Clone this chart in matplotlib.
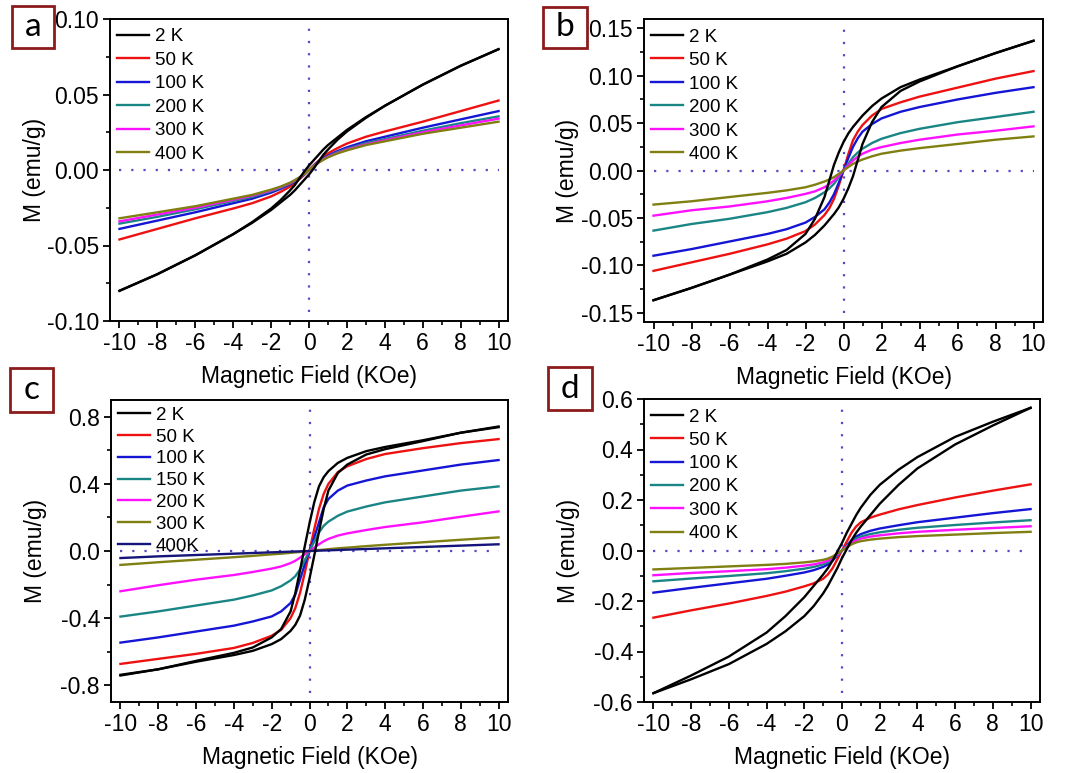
import matplotlib
matplotlib.use("Agg")
import matplotlib.pyplot as plt
from matplotlib.patches import Rectangle
from matplotlib.ticker import MultipleLocator, FormatStrFormatter

plt.rcParams['font.family'] = ['Liberation Sans', 'DejaVu Sans']
plt.rcParams['axes.unicode_minus'] = False

# ---------------- data ----------------
H = [-10, -8, -6, -4, -3, -2, -1.5, -1, -0.75, -0.5, -0.25, 0,
     0.25, 0.5, 0.75, 1, 1.5, 2, 3, 4, 6, 8, 10]

# panel a
a_2K_desc = [-0.080, -0.069, -0.0565, -0.0425, -0.0345, -0.0255, -0.020, -0.0135, -0.010, -0.0055, -0.001, 0.003,
             0.0065, 0.010, 0.0135, 0.0165, 0.0215, 0.0265, 0.035, 0.0425, 0.0565, 0.069, 0.080]
a_2K_asc = [-0.080, -0.069, -0.0565, -0.0425, -0.035, -0.0265, -0.0215, -0.0165, -0.0135, -0.010, -0.0065, -0.003,
            0.001, 0.0055, 0.010, 0.0135, 0.020, 0.0255, 0.0345, 0.0425, 0.0565, 0.069, 0.080]
a_50K = [-0.046, -0.039, -0.032, -0.0255, -0.022, -0.0175, -0.0145, -0.011, -0.0087, -0.006, -0.0032, 0.0,
         0.0032, 0.006, 0.0087, 0.011, 0.0145, 0.0175, 0.022, 0.0255, 0.032, 0.039, 0.046]
a_100K = [-0.039, -0.0335, -0.028, -0.022, -0.019, -0.015, -0.0125, -0.0095, -0.0077, -0.0055, -0.003, 0.0,
          0.003, 0.0055, 0.0077, 0.0095, 0.0125, 0.015, 0.019, 0.022, 0.028, 0.0335, 0.039]
a_200K = [-0.0355, -0.031, -0.026, -0.0205, -0.0178, -0.014, -0.0118, -0.009, -0.0072, -0.0052, -0.0028, 0.0,
          0.0028, 0.0052, 0.0072, 0.009, 0.0118, 0.014, 0.0178, 0.0205, 0.026, 0.031, 0.0355]
a_300K = [-0.034, -0.0295, -0.025, -0.0197, -0.017, -0.0135, -0.0113, -0.0087, -0.007, -0.005, -0.0027, 0.0,
          0.0027, 0.005, 0.007, 0.0087, 0.0113, 0.0135, 0.017, 0.0197, 0.025, 0.0295, 0.034]
a_400K = [-0.032, -0.028, -0.024, -0.019, -0.0165, -0.013, -0.011, -0.0084, -0.0067, -0.0048, -0.0026, 0.0,
          0.0026, 0.0048, 0.0067, 0.0084, 0.011, 0.013, 0.0165, 0.019, 0.024, 0.028, 0.032]

# panel b
b_2K_desc = [-0.137, -0.124, -0.110, -0.094, -0.084, -0.067, -0.051, -0.028, -0.011, 0.006, 0.019, 0.030,
             0.039, 0.046, 0.052, 0.058, 0.068, 0.076, 0.088, 0.096, 0.110, 0.124, 0.137]
b_2K_asc = [-0.137, -0.124, -0.110, -0.096, -0.088, -0.076, -0.068, -0.058, -0.052, -0.046, -0.039, -0.030,
            -0.019, -0.006, 0.011, 0.028, 0.051, 0.067, 0.084, 0.094, 0.110, 0.124, 0.137]
b_50K = [-0.106, -0.097, -0.088, -0.078, -0.072, -0.064, -0.057, -0.047, -0.040, -0.030, -0.016, 0.0,
         0.017, 0.032, 0.041, 0.048, 0.058, 0.065, 0.072, 0.078, 0.0875, 0.097, 0.105]
b_100K = [-0.090, -0.083, -0.075, -0.067, -0.062, -0.055, -0.049, -0.041, -0.034, -0.025, -0.013, 0.0,
          0.013, 0.025, 0.034, 0.041, 0.049, 0.055, 0.062, 0.067, 0.075, 0.082, 0.088]
b_200K = [-0.0635, -0.0565, -0.051, -0.044, -0.0395, -0.0335, -0.029, -0.023, -0.019, -0.014, -0.007, 0.0,
          0.007, 0.014, 0.019, 0.023, 0.029, 0.0335, 0.0395, 0.044, 0.051, 0.0565, 0.062]
b_300K = [-0.0477, -0.042, -0.038, -0.0325, -0.029, -0.0247, -0.022, -0.0177, -0.0145, -0.0106, -0.0055, 0.0,
          0.0055, 0.0106, 0.0145, 0.0177, 0.022, 0.0247, 0.029, 0.0325, 0.038, 0.042, 0.0466]
b_400K = [-0.036, -0.0325, -0.028, -0.0236, -0.021, -0.0177, -0.015, -0.0116, -0.0095, -0.007, -0.0036, 0.0,
          0.0036, 0.007, 0.0095, 0.0116, 0.015, 0.0177, 0.021, 0.0236, 0.028, 0.0325, 0.036]

# panel c
c_2K_desc = [-0.742, -0.705, -0.655, -0.607, -0.575, -0.515, -0.465, -0.36, -0.25, -0.115, 0.028, 0.165,
             0.29, 0.385, 0.44, 0.476, 0.525, 0.555, 0.595, 0.62, 0.66, 0.705, 0.738]
c_2K_asc = [-0.738, -0.705, -0.66, -0.62, -0.595, -0.555, -0.525, -0.476, -0.44, -0.385, -0.29, -0.165,
            -0.028, 0.115, 0.25, 0.36, 0.465, 0.515, 0.575, 0.607, 0.655, 0.705, 0.742]
c_50K = [-0.673, -0.643, -0.613, -0.578, -0.548, -0.505, -0.47, -0.40, -0.34, -0.25, -0.13, 0.0,
         0.13, 0.25, 0.34, 0.40, 0.47, 0.505, 0.548, 0.578, 0.613, 0.643, 0.667]
c_100K = [-0.546, -0.515, -0.48, -0.445, -0.42, -0.39, -0.36, -0.31, -0.26, -0.17, -0.08, 0.0,
          0.08, 0.17, 0.26, 0.31, 0.36, 0.39, 0.42, 0.445, 0.48, 0.515, 0.542]
c_150K = [-0.391, -0.36, -0.325, -0.29, -0.265, -0.235, -0.21, -0.175, -0.15, -0.11, -0.055, 0.0,
          0.055, 0.11, 0.15, 0.175, 0.21, 0.235, 0.265, 0.29, 0.325, 0.36, 0.385]
c_200K = [-0.24, -0.204, -0.171, -0.143, -0.125, -0.105, -0.092, -0.072, -0.058, -0.04, -0.02, 0.0,
          0.02, 0.04, 0.058, 0.072, 0.092, 0.105, 0.125, 0.143, 0.171, 0.204, 0.236]
c_300K = [-0.083, -0.067, -0.052, -0.037, -0.029, -0.02, -0.016, -0.011, -0.008, -0.006, -0.003, 0.0,
          0.003, 0.006, 0.008, 0.011, 0.016, 0.02, 0.029, 0.037, 0.052, 0.067, 0.081]
c_400K = [-0.042, -0.032, -0.024, -0.016, -0.012, -0.008, -0.006, -0.004, -0.003, -0.002, -0.001, 0.0,
          0.001, 0.002, 0.003, 0.004, 0.006, 0.008, 0.012, 0.016, 0.024, 0.032, 0.040]

# panel d
d_2K_desc = [-0.565, -0.495, -0.42, -0.325, -0.26, -0.185, -0.14, -0.095, -0.07, -0.04, -0.005, 0.03,
             0.07, 0.105, 0.14, 0.17, 0.22, 0.26, 0.32, 0.37, 0.45, 0.51, 0.565]
d_2K_asc = [-0.565, -0.51, -0.45, -0.37, -0.32, -0.26, -0.22, -0.17, -0.14, -0.105, -0.07, -0.03,
            0.005, 0.04, 0.07, 0.095, 0.14, 0.185, 0.26, 0.325, 0.42, 0.495, 0.565]
d_50K = [-0.266, -0.237, -0.21, -0.18, -0.163, -0.142, -0.13, -0.112, -0.095, -0.07, -0.035, 0.0,
         0.035, 0.07, 0.095, 0.112, 0.13, 0.142, 0.163, 0.18, 0.21, 0.237, 0.262]
d_100K = [-0.167, -0.148, -0.13, -0.112, -0.10, -0.087, -0.078, -0.065, -0.055, -0.04, -0.02, 0.0,
          0.02, 0.04, 0.055, 0.065, 0.078, 0.087, 0.10, 0.112, 0.13, 0.148, 0.164]
d_200K = [-0.122, -0.111, -0.101, -0.09, -0.082, -0.072, -0.065, -0.055, -0.047, -0.035, -0.018, 0.0,
          0.018, 0.035, 0.047, 0.055, 0.065, 0.072, 0.082, 0.09, 0.101, 0.111, 0.12]
d_300K = [-0.098, -0.089, -0.082, -0.074, -0.068, -0.06, -0.055, -0.047, -0.04, -0.03, -0.016, 0.0,
          0.016, 0.03, 0.04, 0.047, 0.055, 0.06, 0.068, 0.074, 0.082, 0.089, 0.096]
d_400K = [-0.075, -0.069, -0.063, -0.057, -0.053, -0.047, -0.043, -0.037, -0.032, -0.024, -0.012, 0.0,
          0.012, 0.024, 0.032, 0.037, 0.043, 0.047, 0.053, 0.057, 0.063, 0.069, 0.074]

labels_abd = ['2 K', '50 K', '100 K', '200 K', '300 K', '400 K']
labels_c = ['2 K', '50 K', '100 K', '150 K', '200 K', '300 K', '400K']
x_ticks = [-10, -8, -6, -4, -2, 0, 2, 4, 6, 8, 10]

# ---------------- style ----------------
BLACK, RED, BLUE, TEAL, MAG, OLIVE, NAVY = '#000000', '#ee1111', '#1515d5', '#1a8585', '#ff10ff', '#7f7f12', '#14147a'
cols_abd = [BLACK, RED, BLUE, TEAL, MAG, OLIVE]
cols_c = [BLACK, RED, BLUE, TEAL, MAG, OLIVE, NAVY]
DOT = '#5a48c8'

W, Hpx = 1065, 773
fig = plt.figure(figsize=(W / 100, Hpx / 100), dpi=100)


def ax_px(x0, y0, x1, y1):
    return fig.add_axes([x0 / W, 1 - y1 / Hpx, (x1 - x0) / W, (y1 - y0) / Hpx])


panels = [
    dict(box=(110, 19, 508, 321), ylim=(-0.10, 0.10), ymaj=0.05, fmt='%.2f',
         loops=(a_2K_desc, a_2K_asc), curves=[a_50K, a_100K, a_200K, a_300K, a_400K],
         labels=labels_abd, cols=cols_abd, leg_top=0.969, leg_sp=0.34, letter='a',
         lbox=(12, 6, 54, 48)),
    dict(box=(644, 19, 1043, 322), ylim=(-0.16, 0.16), ymaj=0.05, fmt='%.2f',
         loops=(b_2K_desc, b_2K_asc), curves=[b_50K, b_100K, b_200K, b_300K, b_400K],
         labels=labels_abd, cols=cols_abd, leg_top=0.969, leg_sp=0.34, letter='b',
         lbox=(543, 7, 587, 48)),
    dict(box=(111, 400, 508, 702), ylim=(-0.9, 0.9), ymaj=0.4, fmt='%.1f',
         loops=(c_2K_desc, c_2K_asc), curves=[c_50K, c_100K, c_150K, c_200K, c_300K, c_400K],
         labels=labels_c, cols=cols_c, leg_top=0.978, leg_sp=0.25, letter='c',
         lbox=(10, 368, 53, 412)),
    dict(box=(644, 399, 1040, 702), ylim=(-0.6, 0.6), ymaj=0.2, fmt='%.1f',
         loops=(d_2K_desc, d_2K_asc), curves=[d_50K, d_100K, d_200K, d_300K, d_400K],
         labels=labels_abd, cols=cols_abd, leg_top=0.969, leg_sp=0.33, letter='d',
         lbox=(548, 367, 592, 410)),
]

for p in panels:
    ax = ax_px(*p['box'])
    ylo, yhi = p['ylim']
    ax.set_xlim(-10.5, 10.5)
    ax.set_ylim(ylo, yhi)
    # dotted zero lines
    ax.plot([-10, 10], [0, 0], ls=(0, (1, 4.5)), color=DOT, lw=1.6, zorder=1)
    ax.plot([0, 0], [ylo * 0.94, yhi * 0.94], ls=(0, (1, 4.5)), color=DOT, lw=1.6, zorder=1)

    handles = []
    desc, asc = p['loops']
    l0, = ax.plot(H, desc, color=p['cols'][0], lw=1.7, zorder=3, label=p['labels'][0])
    ax.plot(H, asc, color=p['cols'][0], lw=1.7, zorder=3)
    handles.append(l0)
    for i, m in enumerate(p['curves']):
        ln, = ax.plot(H, m, color=p['cols'][i + 1], lw=1.7, zorder=2 + 0.01 * i,
                      label=p['labels'][i + 1])
        handles.append(ln)

    ax.legend(handles=handles, loc='upper left', bbox_to_anchor=(0.018, p['leg_top']),
              frameon=False, fontsize=13.5, handlelength=1.7, handletextpad=0.3,
              labelspacing=p['leg_sp'], borderpad=0, borderaxespad=0)

    ax.set_xticks(x_ticks)
    ax.xaxis.set_minor_locator(MultipleLocator(1))
    ax.yaxis.set_major_locator(MultipleLocator(p['ymaj']))
    ax.yaxis.set_minor_locator(MultipleLocator(p['ymaj'] / 2))
    ax.yaxis.set_major_formatter(FormatStrFormatter(p['fmt']))
    ax.tick_params(which='major', direction='out', length=5, width=1.3, labelsize=16.5, pad=3)
    ax.tick_params(which='minor', direction='out', length=3, width=1.2)
    ax.tick_params(top=False, right=False, which='both')
    for s in ax.spines.values():
        s.set_linewidth(1.4)

    ax.set_xlabel('Magnetic Field (KOe)', fontsize=16.5)
    ax.set_ylabel('M (emu/g)', fontsize=16.5)
    ax.xaxis.set_label_coords(0.5, -0.146)
    ax.yaxis.set_label_coords(-0.162, 0.5)

    # panel letter box
    x0, y0, x1, y1 = p['lbox']
    fig.patches.append(Rectangle((x0 / W, 1 - y1 / Hpx), (x1 - x0) / W, (y1 - y0) / Hpx,
                                 transform=fig.transFigure, fill=False,
                                 edgecolor='#8c1c1c', lw=2.0))
    fig.text((x0 + x1) / 2 / W, 1 - (y0 + y1) / 2 / Hpx, p['letter'],
             fontsize=24, family=['Lato', 'DejaVu Sans'], ha='center', va='center')

fig.savefig('out.png', dpi=100)
